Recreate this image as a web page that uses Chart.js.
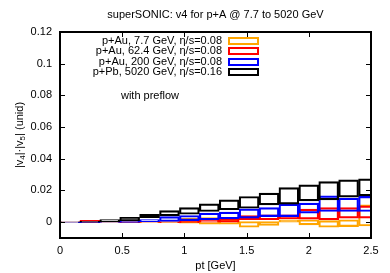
<!DOCTYPE html>
<html>
<head>
<meta charset="utf-8">
<script src="https://cdn.jsdelivr.net/npm/chart.js@4.4.0/dist/chart.umd.min.js"></script>
<style>
  html, body { margin: 0; padding: 0; background: #fff; }
</style>
</head>
<body>
<canvas id="chart" width="390" height="273"></canvas>
<script>
// pt bin centres (bins are 0.16 GeV wide)
const ptBins = [0.08, 0.24, 0.40, 0.56, 0.72, 0.88, 1.04, 1.20, 1.36, 1.52, 1.68, 1.84, 2.00, 2.16, 2.32, 2.48];

// p+Au 7.7 GeV
const au77Low  = [0, 0, -0.0002, -0.0003, -0.0004, -0.0004, -0.0006, -0.0013, -0.0013, -0.0032, -0.0021, 0, -0.0017, -0.0032, -0.0028, -0.0024];
const au77High = [0, 0.0003, 0.0002, 0.0002, 0.0002, 0.0004, 0.0025, 0.0029, 0.0015, 0.0004, 0.0004, 0.0015, 0.0015, 0.0010, 0.0015, 0.0110];
// p+Au 62.4 GeV
const au62Low  = [0, -0.0002, 0, -0.0003, -0.0002, -0.0004, -0.0004, 0, 0, 0.0015, 0.0015, 0.0020, 0.0019, 0.0015, 0.0025, 0.0025];
const au62High = [0.0002, 0.0012, 0.0003, 0.0002, 0.0003, 0.0002, 0.0005, 0.0012, 0.0025, 0.0042, 0.0046, 0.0046, 0.0082, 0.0092, 0.0092, 0.0103];
// p+Au 200 GeV
const au200Low  = [-0.0003, -0.0003, -0.0002, -0.0002, 0.0003, 0.0004, 0.0010, 0.0015, 0.0021, 0.0025, 0.0035, 0.0035, 0.0057, 0.0067, 0.0067, 0.0067];
const au200High = [0, 0.0002, 0.0003, 0.0010, 0.0017, 0.0035, 0.0042, 0.0057, 0.0063, 0.0084, 0.0092, 0.0114, 0.0120, 0.0166, 0.0151, 0.0163];
// p+Pb 5020 GeV
const pb5020Low  = [0, 0, 0.0003, 0.0010, 0.0028, 0.0040, 0.0050, 0.0067, 0.0078, 0.0088, 0.0109, 0.0114, 0.0134, 0.0141, 0.0158, 0.0166];
const pb5020High = [0.0002, 0.0005, 0.0017, 0.0030, 0.0050, 0.0073, 0.0092, 0.0115, 0.0141, 0.0162, 0.0183, 0.0218, 0.0235, 0.0256, 0.0267, 0.0273];

const seriesLabels = [
  "p+Au, 7.7 GeV, \u03b7/s=0.08",
  "p+Au, 62.4 GeV, \u03b7/s=0.08",
  "p+Au, 200 GeV, \u03b7/s=0.08",
  "p+Pb, 5020 GeV, \u03b7/s=0.16"
];
const seriesColors = ["#ffa500", "#ff0000", "#0000ff", "#000000"];

const xTicks = [0, 0.5, 1, 1.5, 2, 2.5];
const xTickLabels = ["0", "0.5", "1", "1.5", "2", "2.5"];
const yTicks = [0, 0.02, 0.04, 0.06, 0.08, 0.1, 0.12];
const yTickLabels = ["0", "0.02", "0.04", "0.06", "0.08", "0.1", "0.12"];

const FONT = "'Liberation Sans', Arial, sans-serif";

function bandData(lo, hi) {
  return ptBins.map((x, i) => ({ x: x, y: [lo[i], hi[i]] }));
}

const lows = [au77Low, au62Low, au200Low, pb5020Low];
const highs = [au77High, au62High, au200High, pb5020High];

const datasets = seriesLabels.map((label, i) => ({
  label: label,
  data: bandData(lows[i], highs[i]),
  borderColor: seriesColors[i],
  backgroundColor: "rgba(0,0,0,0)",
  borderWidth: 1.5,
  borderSkipped: false,
  barPercentage: 1,
  categoryPercentage: 1,
  grouped: false,
  order: 4 - i,
  clip: 0
}));

// frame, inward ticks, titles and gnuplot-like key
const decorations = {
  id: "decorations",
  afterDraw(chart) {
    const ctx = chart.ctx;
    const a = chart.chartArea;
    const xs = chart.scales.x, ys = chart.scales.y;
    ctx.save();
    ctx.strokeStyle = "#000";
    ctx.lineWidth = 1;
    ctx.beginPath();
    yTicks.forEach(v => {
      const y = Math.round(ys.getPixelForValue(v)) + 0.5;
      ctx.moveTo(a.left, y); ctx.lineTo(a.left + 5, y);
      ctx.moveTo(a.right, y); ctx.lineTo(a.right - 5, y);
    });
    xTicks.forEach(v => {
      const x = Math.round(xs.getPixelForValue(v)) + 0.5;
      ctx.moveTo(x, a.bottom); ctx.lineTo(x, a.bottom - 5);
      ctx.moveTo(x, a.top); ctx.lineTo(x, a.top + 5);
    });
    ctx.stroke();
    ctx.lineWidth = 2;
    ctx.strokeRect(a.left, a.top, a.right - a.left, a.bottom - a.top);

    ctx.fillStyle = "#000";
    ctx.font = "11px " + FONT;
    ctx.textAlign = "center";
    ctx.textBaseline = "middle";
    ctx.fillText("superSONIC: v4 for p+A @ 7.7 to 5020 GeV", (a.left + a.right) / 2, 15);
    ctx.fillText("pt [GeV]", (a.left + a.right) / 2, 266);

    // y title with subscripts
    ctx.save();
    ctx.translate(20, (a.top + a.bottom) / 2);
    ctx.rotate(-Math.PI / 2);
    const parts = [["|v", 0], ["4", 1], ["|\u00b7|v", 0], ["5", 1], ["| (unid)", 0]];
    const big = "11px " + FONT, small = "8px " + FONT;
    let w = 0;
    parts.forEach(p => { ctx.font = p[1] ? small : big; w += ctx.measureText(p[0]).width; });
    let cx = -w / 2;
    ctx.textAlign = "left";
    parts.forEach(p => {
      ctx.font = p[1] ? small : big;
      ctx.fillText(p[0], cx, p[1] ? 3 : 0);
      cx += ctx.measureText(p[0]).width;
    });
    ctx.restore();

    // key
    ctx.font = "11px " + FONT;
    ctx.textAlign = "right";
    chart.data.datasets.forEach((ds, i) => {
      const y = 41 + i * 10.4;
      ctx.fillStyle = "#000";
      ctx.fillText(ds.label, 222, y);
      ctx.strokeStyle = ds.borderColor;
      ctx.lineWidth = 2;
      ctx.strokeRect(229, Math.round(y) - 3, 29, 6);
    });
    ctx.textAlign = "center";
    ctx.fillStyle = "#000";
    ctx.fillText("with preflow", 150, 96);
    ctx.restore();
  }
};

new Chart(document.getElementById("chart"), {
  type: "bar",
  data: { datasets: datasets },
  options: {
    responsive: false,
    devicePixelRatio: 1,
    animation: false,
    layout: { padding: { left: 0, right: 19, top: 32, bottom: 0 } },
    plugins: { legend: { display: false }, title: { display: false }, tooltip: { enabled: false } },
    scales: {
      x: {
        type: "linear",
        offset: false,
        min: 0,
        max: 2.5,
        grid: { display: false, drawTicks: false, offset: false },
        border: { display: false },
        afterBuildTicks: s => { s.ticks = xTicks.map(v => ({ value: v })); },
        afterFit: s => { s.height = 35; },
        ticks: {
          padding: 6,
          color: "#000",
          font: { family: FONT, size: 11 },
          maxRotation: 0,
          callback: (v, i) => xTickLabels[i]
        }
      },
      y: {
        type: "linear",
        min: -0.01,
        max: 0.12,
        grid: { display: false, drawTicks: false },
        border: { display: false },
        afterBuildTicks: s => { s.ticks = yTicks.map(v => ({ value: v })); },
        afterFit: s => { s.width = 60; },
        ticks: {
          padding: 8,
          color: "#000",
          font: { family: FONT, size: 11 },
          callback: (v, i) => yTickLabels[i]
        }
      }
    }
  },
  plugins: [decorations]
});
</script>
</body>
</html>
